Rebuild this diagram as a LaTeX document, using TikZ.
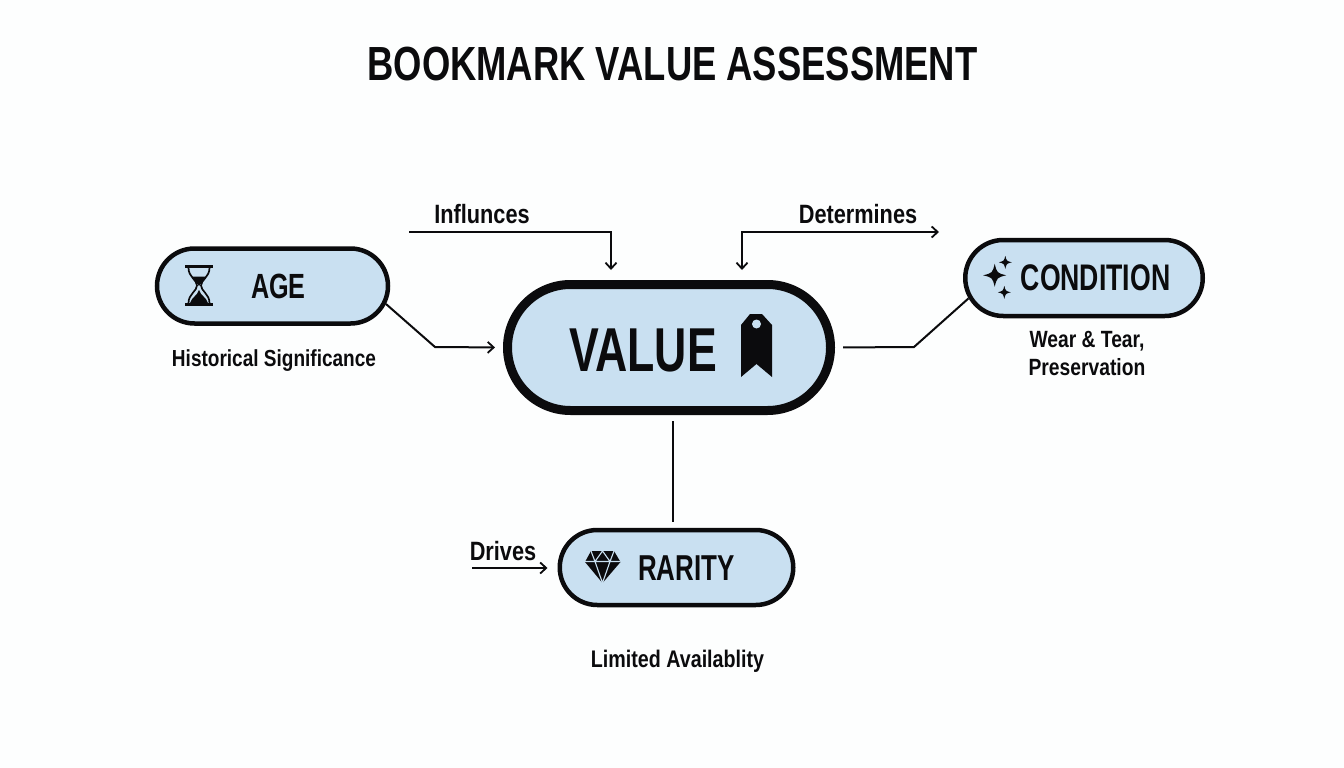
\documentclass[tikz,border=0pt]{standalone}
\usepackage{fontspec}
\setmainfont{Liberation Sans}
\newfontfamily\headfont[FakeStretch=.76]{Liberation Sans Bold}
\newfontfamily\pillfont[FakeStretch=.72]{Liberation Sans Bold}
\newfontfamily\notefont[FakeStretch=.82]{Liberation Sans Bold}
\usetikzlibrary{shapes.misc,arrows.meta}
\definecolor{pillblue}{HTML}{C9E0F1}
\definecolor{paperwhite}{HTML}{FDFEFE}
\definecolor{inkblack}{HTML}{0B0B0D}
\tikzset{
  pill/.style={rounded rectangle, draw=inkblack, fill=pillblue, line width=4.5pt, inner sep=0pt},
  pilltext/.style={text=inkblack, inner sep=0pt},
  note/.style={text=inkblack, inner sep=0pt, align=center, font=\notefont\fontsize{24}{28}\selectfont},
  edgenote/.style={note, font=\notefont\fontsize{26.5}{30}\selectfont},
  link/.style={draw=inkblack, line width=2pt},
  arrowlink/.style={link, -{Straight Barb[length=6pt,width=11pt,line width=1.8pt]}},
}
\begin{document}
\begin{tikzpicture}[x=1pt,y=-1pt]
\useasboundingbox[fill=paperwhite] (0,0) rectangle (1344,768);
\node[pilltext, font=\headfont\fontsize{47.9}{54}\selectfont] (title) at (672.5,64.5){BOOKMARK VALUE ASSESSMENT};
\node[pill, minimum width=231pt, minimum height=75pt] (age) at (272.5,286){};
\node[pill, line width=9pt, minimum width=323pt, minimum height=126pt] (value) at (669,347.5){};
\node[pill, minimum width=237.5pt, minimum height=76pt] (condition) at (1084,278){};
\node[pill, minimum width=233.5pt, minimum height=75pt] (rarity) at (676.5,567.5){};
\node[pilltext, font=\pillfont\fontsize{35}{40}\selectfont] (agetext) at (278.5,286){AGE};
\node[pilltext, font=\pillfont\fontsize{62}{66}\selectfont] (valuetext) at (643,350){VALUE};
\node[pilltext, font=\pillfont\fontsize{37}{40}\selectfont] (conditiontext) at (1095.5,278){CONDITION};
\node[pilltext, font=\pillfont\fontsize{36}{40}\selectfont] (raritytext) at (686.5,568){RARITY};
\node[note, font=\notefont\fontsize{23.2}{28}\selectfont] (agenote) at (274,360.5){Historical Significance};
\node[note, font=\notefont\fontsize{23.5}{28}\selectfont] (conditionnote) at (1087,353){Wear \& Tear,\\Preservation};
\node[note] (raritynote) at (677.5,661){Limited Availablity};
\node[edgenote] (influnces) at (482,214){Influnces};
\node[edgenote] (determines) at (858,214){Determines};
\node[edgenote] (drives) at (503,551){Drives};
\coordinate (ageelbow) at (435,347);
\coordinate (condelbow) at (914,347);
\coordinate (inflstart) at (409,232);
\coordinate (inflcorner) at (611,232);
\coordinate (inflend) at (611,270);
\coordinate (detstart) at (742,270);
\coordinate (detcorner) at (742,232);
\coordinate (detend) at (939,232);
\coordinate (drivestart) at (472,568);
\draw[arrowlink, shorten >=8pt] (age.-9.5) -- (ageelbow) -- (value.west);
\draw[link, shorten <=8pt] (value.east) -- (condelbow) -- (condition.190);
\draw[link, shorten <=6pt, shorten >=6pt] ([xshift=4pt]value.south) -- ([xshift=-3.5pt]rarity.north);
\draw[arrowlink] (inflstart) -- (inflcorner) -- (inflend);
\draw[arrowlink, {Straight Barb[length=6pt,width=11pt,line width=1.8pt]}-{Straight Barb[length=6pt,width=11pt,line width=1.8pt]}] (detstart) -- (detcorner) -- (detend);
\draw[arrowlink, shorten >=10pt] (drivestart) -- (rarity.west |- drivestart);
% hourglass
\fill[inkblack] (185,265.2) rectangle (213,268.2);
\fill[inkblack] (185,302.5) rectangle (213,305.5);
\draw[inkblack, line width=1.7pt] (188.5,268) .. controls (188.5,277) and (197,280) .. (197,285.5) .. controls (197,291) and (188.5,294) .. (188.5,303);
\draw[inkblack, line width=1.7pt] (209.5,268) .. controls (209.5,277) and (201,280) .. (201,285.5) .. controls (201,291) and (209.5,294) .. (209.5,303);
\fill[inkblack] (191.5,276.5) -- (206.5,276.5) -- (199,286) -- cycle;
\fill[inkblack] (190,303) -- (208,303) .. controls (206,297) and (201,296) .. (199,290) .. controls (197,296) and (192,297) .. (190,303) -- cycle;
% bookmark tag
\fill[inkblack] (750,314) -- (762,314) -- (772,325) -- (772,377) -- (756.5,364) -- (741,377) -- (741,325) -- cycle;
\fill[pillblue] (756.5,324) circle (4.5pt);
% sparkles
\foreach \sx/\sy/\sr in {994.7/275.3/11.5, 1005.3/262.3/6.5, 1004.3/292.3/6.5}
  \fill[inkblack] (\sx,\sy-\sr) .. controls (\sx+.2*\sr,\sy-.2*\sr) .. (\sx+\sr,\sy) .. controls (\sx+.2*\sr,\sy+.2*\sr) .. (\sx,\sy+\sr) .. controls (\sx-.2*\sr,\sy+.2*\sr) .. (\sx-\sr,\sy) .. controls (\sx-.2*\sr,\sy-.2*\sr) .. cycle;
% diamond
\fill[inkblack] (591,551) -- (614,551) -- (620.5,562) -- (602.5,583) -- (585,562) -- cycle;
\draw[pillblue, line width=1.1pt] (585,561.5) -- (620.5,561.5) (595,561.5) -- (602.5,583) -- (610,561.5) (591,551) -- (595,561.5) -- (602.5,551) -- (610,561.5) -- (614,551);
\end{tikzpicture}
\end{document}
